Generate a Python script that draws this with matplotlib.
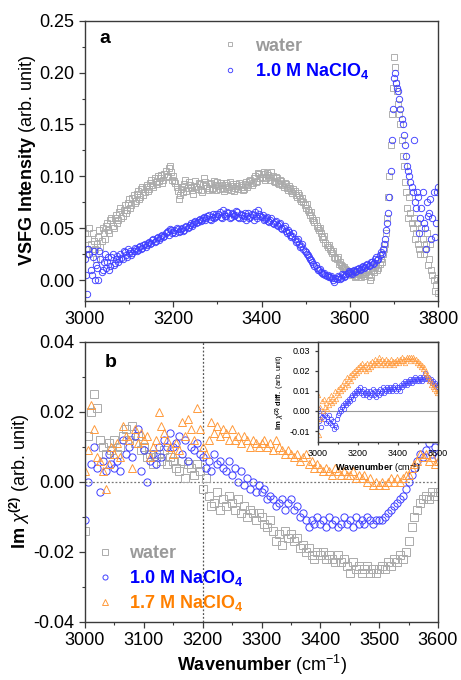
import numpy as np
import matplotlib
matplotlib.use("Agg")
import matplotlib.pyplot as plt
from matplotlib.ticker import MultipleLocator

plt.rcParams['font.family'] = ['Liberation Sans', 'DejaVu Sans']
plt.rcParams['mathtext.fontset'] = 'custom'
plt.rcParams['mathtext.rm'] = 'Liberation Sans'
plt.rcParams['mathtext.bf'] = 'Liberation Sans:bold'
plt.rcParams['mathtext.it'] = 'Liberation Sans:italic'

# ---------------- data: panel a (VSFG intensity), two interleaved scans ----------------
wn_a = np.arange(3000, 3801, 5)
wn_a2 = np.arange(3002.5, 3800, 5)
water_a = [
    0.045, 0.030, 0.050, 0.028, 0.038, 0.020, 0.042, 0.032, 0.050, 0.040,
    0.055, 0.045, 0.060, 0.050, 0.063, 0.058, 0.070, 0.062, 0.072, 0.068,
    0.078, 0.072, 0.082, 0.076, 0.086, 0.080, 0.090, 0.085, 0.092, 0.088,
    0.097, 0.090, 0.095, 0.100, 0.098, 0.094, 0.102, 0.099, 0.108, 0.104,
    0.100, 0.094, 0.086, 0.082, 0.090, 0.093, 0.086, 0.095, 0.090, 0.083,
    0.096, 0.088, 0.093, 0.085, 0.098, 0.091, 0.087, 0.094, 0.089, 0.092,
    0.095, 0.088, 0.092, 0.086, 0.094, 0.090, 0.087, 0.093, 0.089, 0.091,
    0.094, 0.090, 0.088, 0.095, 0.092, 0.097, 0.094, 0.100, 0.096, 0.102,
    0.099, 0.104, 0.098, 0.101, 0.097, 0.100, 0.095, 0.098, 0.093, 0.096,
    0.090, 0.093, 0.087, 0.089, 0.084, 0.086, 0.080, 0.082, 0.076, 0.075,
    0.070, 0.068, 0.063, 0.060, 0.056, 0.052, 0.048, 0.045, 0.040, 0.036,
    0.032, 0.030, 0.026, 0.022, 0.020, 0.016, 0.015, 0.012, 0.011, 0.009,
    0.008, 0.005, 0.009, 0.004, 0.007, 0.003, 0.008, 0.006, 0.010, 0.000,
    0.012, 0.008, 0.015, 0.012, 0.020, 0.025, 0.035, 0.060, 0.100, 0.160,
    0.215, 0.190, 0.170, 0.150, 0.120, 0.095, 0.070, 0.080, 0.055, 0.060,
    0.045, 0.035, 0.025, 0.040, 0.030, 0.045, 0.020, 0.010, 0.000, -0.005,
    -0.012,
]
water_a2 = [
    0.025, 0.040, 0.035, 0.045, 0.030, 0.035, 0.048, 0.038, 0.045, 0.052,
    0.048, 0.058, 0.052, 0.060, 0.055, 0.066, 0.060, 0.068, 0.065, 0.074,
    0.070, 0.079, 0.074, 0.083, 0.078, 0.088, 0.082, 0.090, 0.086, 0.094,
    0.092, 0.098, 0.093, 0.096, 0.101, 0.097, 0.105, 0.100, 0.110, 0.097,
    0.096, 0.090, 0.078, 0.088, 0.085, 0.097, 0.089, 0.092, 0.087, 0.091,
    0.090, 0.094, 0.087, 0.092, 0.095, 0.089, 0.093, 0.088, 0.096, 0.087,
    0.091, 0.094, 0.089, 0.092, 0.088, 0.095, 0.091, 0.086, 0.093, 0.088,
    0.092, 0.087, 0.093, 0.090, 0.096, 0.092, 0.098, 0.095, 0.103, 0.098,
    0.102, 0.097, 0.103, 0.099, 0.104, 0.096, 0.099, 0.094, 0.097, 0.092,
    0.094, 0.089, 0.091, 0.086, 0.088, 0.082, 0.084, 0.078, 0.079, 0.072,
    0.073, 0.066, 0.066, 0.058, 0.058, 0.050, 0.050, 0.042, 0.043, 0.034,
    0.034, 0.028, 0.028, 0.021, 0.022, 0.018, 0.014, 0.013, 0.010, 0.008,
    0.006, 0.007, 0.003, 0.006, 0.005, 0.006, 0.004, 0.008, 0.005, 0.003,
    0.010, 0.013, 0.010, 0.016, 0.018, 0.030, 0.045, 0.080, 0.130, 0.185,
    0.205, 0.182, 0.160, 0.135, 0.110, 0.085, 0.060, 0.065, 0.050, 0.040,
    0.055, 0.030, 0.050, 0.025, 0.035, 0.015, 0.035, 0.005, -0.010, 0.002,
]
nacl10_a = [
    0.020, -0.013, 0.025, 0.005, 0.028, 0.015, 0.000, 0.020, 0.010, 0.025,
    0.018, 0.010, 0.022, 0.015, 0.020, 0.018, 0.025, 0.020, 0.027, 0.022,
    0.026, 0.024, 0.028, 0.030, 0.029, 0.033, 0.031, 0.035, 0.034, 0.037,
    0.036, 0.040, 0.038, 0.042, 0.041, 0.044, 0.043, 0.046, 0.044, 0.048,
    0.046, 0.045, 0.049, 0.047, 0.050, 0.048, 0.052, 0.051, 0.055, 0.054,
    0.057, 0.056, 0.059, 0.058, 0.061, 0.060, 0.063, 0.058, 0.064, 0.061,
    0.062, 0.066, 0.060, 0.064, 0.062, 0.065, 0.061, 0.064, 0.063, 0.066,
    0.060, 0.063, 0.062, 0.058, 0.065, 0.061, 0.063, 0.066, 0.060, 0.064,
    0.061, 0.058, 0.060, 0.057, 0.058, 0.055, 0.056, 0.053, 0.054, 0.050,
    0.050, 0.047, 0.048, 0.044, 0.043, 0.040, 0.038, 0.035, 0.033, 0.030,
    0.027, 0.024, 0.020, 0.018, 0.014, 0.012, 0.010, 0.008, 0.006, 0.005,
    0.005, 0.003, 0.002, -0.002, 0.001, 0.003, 0.002, 0.005, 0.004, 0.007,
    0.008, 0.006, 0.010, 0.009, 0.012, 0.011, 0.014, 0.013, 0.016, 0.015,
    0.018, 0.017, 0.022, 0.020, 0.027, 0.030, 0.040, 0.055, 0.080, 0.135,
    0.195, 0.190, 0.182, 0.165, 0.150, 0.130, 0.110, 0.100, 0.090, 0.135,
    0.070, 0.080, 0.060, 0.085, 0.050, 0.075, 0.065, 0.040, 0.085, 0.055,
    0.090,
]
nacl10_a2 = [
    0.005, 0.030, 0.010, 0.022, 0.000, 0.012, 0.028, 0.008, 0.018, 0.012,
    0.022, 0.014, 0.025, 0.017, 0.023, 0.020, 0.021, 0.028, 0.024, 0.030,
    0.028, 0.026, 0.031, 0.028, 0.032, 0.030, 0.034, 0.032, 0.036, 0.035,
    0.039, 0.037, 0.041, 0.039, 0.043, 0.042, 0.045, 0.047, 0.049, 0.045,
    0.048, 0.050, 0.046, 0.049, 0.047, 0.051, 0.050, 0.053, 0.052, 0.056,
    0.055, 0.058, 0.057, 0.060, 0.058, 0.062, 0.059, 0.061, 0.060, 0.064,
    0.064, 0.061, 0.068, 0.062, 0.066, 0.060, 0.065, 0.062, 0.067, 0.061,
    0.064, 0.060, 0.065, 0.062, 0.060, 0.064, 0.058, 0.062, 0.068, 0.062,
    0.063, 0.059, 0.061, 0.056, 0.060, 0.054, 0.057, 0.052, 0.055, 0.049,
    0.052, 0.045, 0.046, 0.042, 0.045, 0.037, 0.040, 0.032, 0.035, 0.028,
    0.025, 0.022, 0.019, 0.016, 0.015, 0.010, 0.011, 0.007, 0.007, 0.004,
    0.003, 0.004, 0.000, 0.002, 0.004, 0.001, 0.006, 0.003, 0.006, 0.009,
    0.007, 0.009, 0.008, 0.011, 0.010, 0.013, 0.012, 0.015, 0.014, 0.018,
    0.016, 0.020, 0.019, 0.024, 0.025, 0.035, 0.048, 0.065, 0.105, 0.165,
    0.200, 0.185, 0.175, 0.155, 0.140, 0.120, 0.105, 0.095, 0.085, 0.075,
    0.085, 0.045, 0.070, 0.055, 0.030, 0.062, 0.078, 0.060, 0.042, 0.085,
]

# ---------------- data: panel b (Im chi2) ----------------
wn_b = np.arange(3000, 3601, 5)
water_b = [
    -0.014, 0.013, 0.020, 0.025, 0.021, 0.012, 0.010, 0.008, 0.011, 0.009,
    0.012, 0.008, 0.010, 0.013, 0.015, 0.012, 0.016, 0.011, 0.013, 0.009,
    0.010, 0.007, 0.008, 0.005, 0.007, 0.008, 0.006, 0.009, 0.005, 0.007,
    0.006, 0.004, 0.003, 0.006, 0.001, 0.005, 0.004, 0.002, 0.005, 0.003,
    -0.002, 0.001, -0.004, -0.007, -0.006, -0.003, -0.008, -0.005, -0.007, -0.004,
    -0.006, -0.008, -0.005, -0.009, -0.007, -0.010, -0.008, -0.009, -0.011, -0.009,
    -0.010, -0.012, -0.013, -0.011, -0.014, -0.017, -0.015, -0.018, -0.014, -0.016,
    -0.015, -0.017, -0.016, -0.019, -0.018, -0.020, -0.019, -0.021, -0.022, -0.020,
    -0.021, -0.020, -0.022, -0.021, -0.022, -0.023, -0.021, -0.023, -0.022, -0.024,
    -0.026, -0.023, -0.025, -0.024, -0.026, -0.025, -0.024, -0.026, -0.025, -0.026,
    -0.025, -0.024, -0.025, -0.023, -0.024, -0.022, -0.023, -0.021, -0.022, -0.020,
    -0.017, -0.013, -0.010, -0.008, -0.006, -0.005, -0.004, -0.005, -0.003, -0.004,
    -0.003,
]
nacl10_b = [
    -0.011, 0.000, 0.005, 0.010, 0.004, -0.003, 0.006, 0.003, 0.008, 0.005,
    0.004, 0.006, 0.003, 0.012, 0.008, 0.010, 0.007, 0.013, 0.015, 0.003,
    0.009, 0.000, 0.006, 0.008, 0.005, 0.010, 0.007, 0.012, 0.010, 0.014,
    0.010, 0.011, 0.013, 0.008, 0.012, 0.006, 0.010, 0.009, 0.011, 0.008,
    0.007, 0.004, 0.006, 0.003, 0.008, 0.005, 0.006, 0.004, 0.003, 0.006,
    0.002, 0.004, 0.000, 0.003, -0.001, 0.001, -0.002, 0.000, -0.003, -0.001,
    -0.003, -0.002, -0.005, -0.004, -0.005, -0.007, -0.006, -0.005, -0.008, -0.006,
    -0.005, -0.008, -0.007, -0.010, -0.009, -0.011, -0.013, -0.011, -0.012, -0.010,
    -0.012, -0.011, -0.013, -0.010, -0.012, -0.011, -0.013, -0.012, -0.010, -0.012,
    -0.011, -0.013, -0.010, -0.012, -0.011, -0.012, -0.010, -0.011, -0.012, -0.011,
    -0.011, -0.011, -0.010, -0.009, -0.008, -0.007, -0.006, -0.005, -0.004, -0.002,
    0.000, 0.002, 0.004, 0.006, 0.008, 0.007, 0.009, 0.011, 0.008, 0.010,
    0.007,
]
nacl17_b = [
    0.003, 0.009, 0.022, 0.015, 0.007, 0.006, 0.003, -0.002, 0.005, 0.010,
    0.008, 0.011, 0.007, 0.016, 0.013, 0.012, 0.004, 0.015, 0.011, 0.014,
    0.012, 0.013, 0.007, 0.010, 0.012, 0.020, 0.016, 0.014, 0.012, 0.010,
    0.008, 0.011, 0.009, 0.017, 0.013, 0.018, 0.015, 0.012, 0.021, 0.015,
    0.010, 0.008, 0.012, 0.017, 0.014, 0.016, 0.013, 0.015, 0.014, 0.012,
    0.015, 0.012, 0.013, 0.011, 0.013, 0.012, 0.010, 0.012, 0.011, 0.010,
    0.011, 0.012, 0.010, 0.011, 0.009, 0.012, 0.010, 0.009, 0.008, 0.009,
    0.008, 0.007, 0.008, 0.006, 0.007, 0.008, 0.005, 0.006, 0.004, 0.005,
    0.004, 0.003, 0.004, 0.003, 0.002, 0.004, 0.003, 0.002, 0.003, 0.002,
    0.002, 0.003, 0.001, 0.002, 0.001, 0.002, 0.000, 0.001, -0.001, 0.000,
    -0.001, 0.000, -0.001, 0.000, 0.001, 0.000, 0.001, 0.000, 0.001, 0.002,
    0.002, 0.004, 0.005, 0.006, 0.008, 0.007, 0.008, 0.006, 0.007, 0.005,
    0.006,
]

# ---------------- data: inset (difference spectra) ----------------
diff10 = [
    0.001, -0.005, -0.002, -0.008, -0.003, -0.001, -0.004, -0.002, -0.006, -0.003,
    -0.005, -0.002, -0.006, -0.004, -0.007, -0.005, -0.009, -0.007, -0.008, -0.004,
    -0.002, -0.001, 0.001, 0.000, 0.002, 0.003, 0.001, 0.004, 0.003, 0.005,
    0.004, 0.006, 0.005, 0.007, 0.008, 0.006, 0.009, 0.008, 0.010, 0.009,
    0.011, 0.010, 0.012, 0.009, 0.010, 0.008, 0.011, 0.009, 0.008, 0.010,
    0.009, 0.007, 0.010, 0.008, 0.009, 0.011, 0.008, 0.010, 0.007, 0.009,
    0.010, 0.008, 0.011, 0.009, 0.010, 0.012, 0.009, 0.011, 0.010, 0.012,
    0.011, 0.010, 0.012, 0.011, 0.010, 0.012, 0.011, 0.013, 0.010, 0.012,
    0.011, 0.012, 0.010, 0.013, 0.012, 0.014, 0.013, 0.015, 0.014, 0.013,
    0.015, 0.014, 0.016, 0.015, 0.014, 0.016, 0.015, 0.017, 0.016, 0.015,
    0.016, 0.015, 0.017, 0.016, 0.015, 0.017, 0.016, 0.019, 0.017, 0.016,
    0.017, 0.016, 0.015, 0.016, 0.014, 0.015, 0.013, 0.014, 0.012, 0.013,
    0.012,
]
diff17 = [
    0.008, -0.012, 0.002, -0.004, 0.005, 0.000, 0.006, 0.002, 0.004, 0.001,
    0.006, 0.003, 0.005, 0.008, 0.004, 0.007, 0.005, 0.010, 0.006, 0.009,
    0.011, 0.008, 0.012, 0.010, 0.013, 0.011, 0.015, 0.012, 0.014, 0.017,
    0.013, 0.016, 0.018, 0.015, 0.019, 0.017, 0.020, 0.018, 0.021, 0.019,
    0.022, 0.020, 0.023, 0.021, 0.024, 0.022, 0.021, 0.023, 0.020, 0.024,
    0.022, 0.021, 0.024, 0.022, 0.025, 0.023, 0.024, 0.026, 0.023, 0.025,
    0.024, 0.027, 0.025, 0.023, 0.026, 0.024, 0.025, 0.023, 0.026, 0.024,
    0.025, 0.023, 0.024, 0.026, 0.024, 0.025, 0.023, 0.025, 0.024, 0.026,
    0.025, 0.024, 0.026, 0.025, 0.027, 0.025, 0.026, 0.024, 0.026, 0.027,
    0.026, 0.027, 0.025, 0.027, 0.026, 0.027, 0.026, 0.025, 0.026, 0.024,
    0.025, 0.023, 0.024, 0.022, 0.023, 0.021, 0.022, 0.019, 0.020, 0.018,
    0.017, 0.015, 0.016, 0.013, 0.014, 0.012, 0.011, 0.013, 0.010, 0.009,
    0.010,
]

labels = ['water', r'$\mathbf{1.0\ M\ NaClO_4}$', r'$\mathbf{1.7\ M\ NaClO_4}$']
mk_colors = ['#ababab', '#4040ff', '#ff9a3c']
txt_colors = ['#9a9a9a', '#0000ff', '#ff8000']
markers = ['s', 'o', '^']

SPINE = '#3a3a3a'


def style_axes(ax, fs=13, major=4, minor=2.5):
    for s in ax.spines.values():
        s.set_color(SPINE)
        s.set_linewidth(1.0)
    ax.tick_params(which='both', direction='out', top=False, right=False,
                   colors=SPINE, labelcolor='black', labelsize=fs)
    ax.tick_params(which='major', length=major, width=0.9)
    ax.tick_params(which='minor', length=minor, width=0.8)


fig = plt.figure(figsize=(4.61, 6.80), dpi=100)

# ---------------- panel a ----------------
ax1 = fig.add_axes([0.1844, 0.5574, 0.7657, 0.4122])
h = []
for xs, ys, m, c, lab in [(wn_a, water_a, 's', mk_colors[0], labels[0]),
                          (wn_a2, water_a2, 's', mk_colors[0], None),
                          (wn_a, nacl10_a, 'o', mk_colors[1], labels[1]),
                          (wn_a2, nacl10_a2, 'o', mk_colors[1], None)]:
    ln, = ax1.plot(xs, ys, linestyle='none', marker=m, ms=4.6, mfc='none',
                   mec=c, mew=0.65)
    if lab is not None:
        ln.set_label(lab)
        h.append(ln)
ax1.set_xlim(3000, 3800)
ax1.set_ylim(-0.02, 0.25)
ax1.xaxis.set_major_locator(MultipleLocator(200))
ax1.xaxis.set_minor_locator(MultipleLocator(100))
ax1.yaxis.set_major_locator(MultipleLocator(0.05))
ax1.yaxis.set_minor_locator(MultipleLocator(0.025))
ax1.yaxis.set_major_formatter(plt.FuncFormatter(lambda v, p: f'{v:.2f}'))
style_axes(ax1)
ax1.set_ylabel(r'$\mathbf{VSFG\ Intensity}$ (arb. unit)', fontsize=13, labelpad=1)
ax1.text(0.04, 0.935, 'a', transform=ax1.transAxes, fontsize=14,
         fontweight='bold', ha='left', va='center')
leg1 = ax1.legend(handles=h, loc='upper left', bbox_to_anchor=(0.35, 0.985),
                  frameon=False, prop={'weight': 'bold', 'size': 13},
                  handlelength=1.0, handletextpad=0.85, labelspacing=0.35,
                  borderpad=0.2, markerscale=0.7)
for t, c in zip(leg1.get_texts(), txt_colors):
    t.set_color(c)

# ---------------- panel b ----------------
ax2 = fig.add_axes([0.1844, 0.0857, 0.7657, 0.4118])
ax2.axhline(0, color='#777777', ls=(0, (1.5, 1.5)), lw=0.9, zorder=1)
ax2.axvline(3200, color='#555555', ls=(0, (1.5, 1.5)), lw=0.9, zorder=1)
h2 = []
for y, m, c, lab in zip([water_b, nacl10_b, nacl17_b], markers, mk_colors, labels):
    ln, = ax2.plot(wn_b, y, linestyle='none', marker=m, ms=5.2, mfc='none',
                   mec=c, mew=0.7, label=lab, zorder=2)
    h2.append(ln)
ax2.set_xlim(3000, 3600)
ax2.set_ylim(-0.04, 0.04)
ax2.xaxis.set_major_locator(MultipleLocator(100))
ax2.xaxis.set_minor_locator(MultipleLocator(50))
ax2.yaxis.set_major_locator(MultipleLocator(0.02))
ax2.yaxis.set_minor_locator(MultipleLocator(0.01))
ax2.yaxis.set_major_formatter(plt.FuncFormatter(lambda v, p: f'{v:.2f}'))
style_axes(ax2)
ax2.set_ylabel(r'$\mathbf{Im}\ \chi^{\mathbf{(2)}}$ (arb. unit)', fontsize=13, labelpad=1)
ax2.set_xlabel(r'$\mathbf{Wavenumber}$ (cm$^{-1}$)', fontsize=13, labelpad=3)
ax2.text(0.055, 0.925, 'b', transform=ax2.transAxes, fontsize=14,
         fontweight='bold', ha='left', va='center')
leg2 = ax2.legend(handles=h2, loc='lower left', bbox_to_anchor=(-0.005, -0.015),
                  frameon=False, prop={'weight': 'bold', 'size': 13},
                  handlelength=1.0, handletextpad=0.85, labelspacing=0.3,
                  borderpad=0.2, markerscale=0.7)
for t, c in zip(leg2.get_texts(), txt_colors):
    t.set_color(c)

# ---------------- inset ----------------
axi = fig.add_axes([0.6898, 0.3504, 0.2603, 0.1471])
axi.set_facecolor('white')
axi.axhline(0, color='#9a9a9a', lw=0.8, zorder=1)
for y, m, c in zip([diff10, diff17], markers[1:], mk_colors[1:]):
    axi.plot(wn_b, y, linestyle='none', marker=m, ms=3.2, mfc='none',
             mec=c, mew=0.5, zorder=2)
axi.set_xlim(3000, 3600)
axi.set_ylim(-0.0153, 0.0345)
axi.xaxis.set_major_locator(MultipleLocator(200))
axi.xaxis.set_minor_locator(MultipleLocator(100))
axi.yaxis.set_major_locator(MultipleLocator(0.01))
axi.yaxis.set_major_formatter(plt.FuncFormatter(lambda v, p: f'{v:.2f}'))
style_axes(axi, fs=6.5, major=2, minor=1.2)
axi.set_xlabel(r'$\mathbf{Wavenumber}$ (cm$^{-1}$)', fontsize=6.5, labelpad=2)
axi.set_ylabel(r'$\mathbf{Im}\ \chi^{\mathbf{(2)}}\ \mathbf{diff.}$ (arb. unit)',
               fontsize=5.5, labelpad=2)

fig.savefig('out.png', dpi=100)
